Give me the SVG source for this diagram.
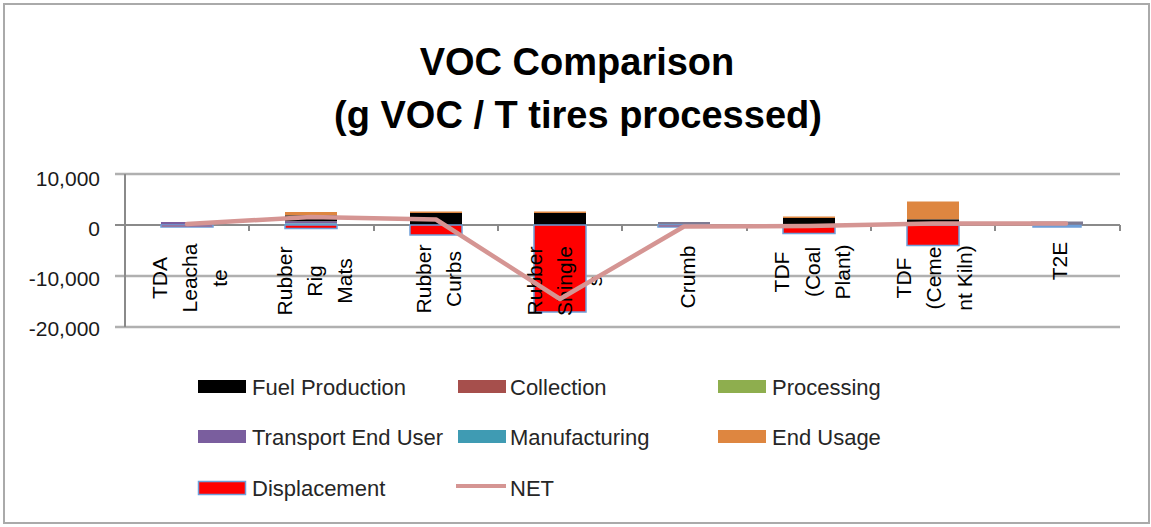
<svg xmlns="http://www.w3.org/2000/svg" width="1151" height="527" viewBox="0 0 1151 527">
  <style>
    .title { font-family: "Liberation Sans", Arial, sans-serif; font-weight: bold; font-size: 38px; fill: #000; text-anchor: middle; }
    .vlab { font-family: "Liberation Sans", Arial, sans-serif; font-size: 21px; fill: #1a1a1a; text-anchor: end; }
    .clab { font-family: "Liberation Sans", Arial, sans-serif; font-size: 21px; fill: #000; text-anchor: middle; }
    .leg { font-family: "Liberation Sans", Arial, sans-serif; font-size: 22px; fill: #262626; }
    .grid { stroke: #b0b0b0; stroke-width: 2.5; fill: none; }
    .axis { stroke: #8a8a8a; stroke-width: 2; fill: none; }
    .fuel { fill: #000000; }
    .coll { fill: #a64f4c; }
    .proc { fill: #8eae4e; }
    .trans { fill: #7a5e9e; }
    .manu { fill: #3f9bb3; }
    .endu { fill: #de8640; }
    .disp { fill: #ff0000; stroke: #6e9fd9; stroke-width: 1.5; }
    .net { fill: none; stroke: #d59593; stroke-width: 4.5; stroke-linejoin: round; stroke-linecap: round; }
  </style>

  <!-- chart frame -->
  <rect x="0" y="0" width="1151" height="527" fill="#ffffff"/>
  <rect x="4" y="4" width="1145" height="519" fill="#ffffff" stroke="#aaaaaa" stroke-width="2"/>

  <!-- title -->
  <g id="title">
    <text class="title" x="577" y="75">VOC Comparison</text>
    <text class="title" x="578" y="128">(g VOC / T tires processed)</text>
  </g>

  <!-- value gridlines and axes -->
  <g id="axes">
    <line class="grid" x1="115" y1="174" x2="1120" y2="174"/>
    <line class="grid" x1="115" y1="276" x2="1120" y2="276"/>
    <line class="grid" x1="115" y1="327" x2="1120" y2="327"/>
    <line class="axis" x1="125" y1="174" x2="125" y2="327"/>
    <line class="axis" x1="115" y1="225" x2="1120" y2="225"/>
    <path class="axis" d="M249 225v6M374 225v6M498 225v6M622 225v6M747 225v6M871 225v6M995 225v6M1120 225v6"/>
    <text class="vlab" x="100" y="186">10,000</text>
    <text class="vlab" x="100" y="236">0</text>
    <text class="vlab" x="100" y="286">-10,000</text>
    <text class="vlab" x="100" y="336">-20,000</text>
  </g>

  <!-- stacked bars, one group per tire use -->
  <g id="bar-tda-leachate">
    <rect class="trans" x="161" y="222" width="52" height="3"/>
    <rect class="disp" x="161" y="225" width="52" height="2"/>
  </g>
  <g id="bar-rubber-rig-mats">
    <rect class="endu" x="285" y="212" width="52" height="3.5"/>
    <rect class="fuel" x="285" y="215.5" width="52" height="6"/>
    <rect class="trans" x="285" y="221.5" width="52" height="2"/>
    <rect class="manu" x="285" y="223.5" width="52" height="1.5"/>
    <rect class="disp" x="285" y="225" width="52" height="3.5"/>
  </g>
  <g id="bar-rubber-curbs">
    <rect class="endu" x="410" y="211.5" width="52" height="1.5"/>
    <rect class="fuel" x="410" y="213" width="52" height="12"/>
    <rect class="disp" x="410" y="225" width="52" height="10"/>
  </g>
  <g id="bar-rubber-shingles">
    <rect class="endu" x="534" y="211.5" width="52" height="1.5"/>
    <rect class="fuel" x="534" y="213" width="52" height="12"/>
    <rect class="disp" x="534" y="225" width="52" height="87"/>
  </g>
  <g id="bar-crumb">
    <rect x="658" y="222" width="52" height="3" fill="#7e7a92"/>
    <rect class="disp" x="658" y="225" width="52" height="2"/>
  </g>
  <g id="bar-tdf-coal">
    <rect class="endu" x="783" y="216.5" width="52" height="1.5"/>
    <rect class="fuel" x="783" y="218" width="52" height="7"/>
    <rect class="disp" x="783" y="225" width="52" height="8.5"/>
  </g>
  <g id="bar-tdf-cement">
    <rect class="endu" x="907" y="201.5" width="52" height="18"/>
    <rect class="fuel" x="907" y="219.5" width="52" height="2.5"/>
    <rect class="disp" x="907" y="225" width="52" height="20.5"/>
  </g>
  <g id="bar-t2e">
    <rect x="1031" y="221.5" width="52" height="3.5" fill="#7e7a92"/>
    <rect class="disp" x="1033" y="225.5" width="48" height="1.5"/>
  </g>

  <!-- category labels (rotated, wrapped) -->
  <g id="category-labels">
    <text class="clab" transform="translate(167 278) rotate(-90)">TDA</text>
    <text class="clab" transform="translate(197 278) rotate(-90)">Leacha</text>
    <text class="clab" transform="translate(227 278) rotate(-90)">te</text>

    <text class="clab" transform="translate(292 281) rotate(-90)">Rubber</text>
    <text class="clab" transform="translate(322 281) rotate(-90)">Rig</text>
    <text class="clab" transform="translate(352 281) rotate(-90)">Mats</text>

    <text class="clab" transform="translate(431 279) rotate(-90)">Rubber</text>
    <text class="clab" transform="translate(461 279) rotate(-90)">Curbs</text>

    <text class="clab" transform="translate(542 281) rotate(-90)">Rubber</text>
    <text class="clab" transform="translate(572 281) rotate(-90)">Shingle</text>
    <text class="clab" transform="translate(602 281) rotate(-90)">s</text>

    <text class="clab" transform="translate(695 277) rotate(-90)">Crumb</text>

    <text class="clab" transform="translate(789 272) rotate(-90)">TDF</text>
    <text class="clab" transform="translate(820 272) rotate(-90)">(Coal</text>
    <text class="clab" transform="translate(850 272) rotate(-90)">Plant)</text>

    <text class="clab" transform="translate(911 278) rotate(-90)">TDF</text>
    <text class="clab" transform="translate(941 278) rotate(-90)">(Ceme</text>
    <text class="clab" transform="translate(972 278) rotate(-90)">nt Kiln)</text>

    <text class="clab" transform="translate(1067 261) rotate(-90)">T2E</text>
  </g>

  <!-- NET series line -->
  <g id="connectors">
    <polyline class="net" points="187,224 311,217 436,219.5 560,299 684,226.5 809,226 933,223.5 1066,223.5"/>
  </g>

  <!-- legend -->
  <g id="legend">
    <g id="legend-fuel">
      <rect class="fuel" x="198" y="380" width="48" height="13"/>
      <text class="leg" x="252" y="395">Fuel Production</text>
    </g>
    <g id="legend-collection">
      <rect class="coll" x="458" y="380" width="48" height="13"/>
      <text class="leg" x="510" y="395">Collection</text>
    </g>
    <g id="legend-processing">
      <rect class="proc" x="718" y="380" width="48" height="13"/>
      <text class="leg" x="772" y="395">Processing</text>
    </g>
    <g id="legend-transport">
      <rect class="trans" x="198" y="430" width="48" height="13"/>
      <text class="leg" x="252" y="445">Transport End User</text>
    </g>
    <g id="legend-manufacturing">
      <rect class="manu" x="458" y="430" width="48" height="13"/>
      <text class="leg" x="510" y="445">Manufacturing</text>
    </g>
    <g id="legend-end-usage">
      <rect class="endu" x="718" y="430" width="48" height="13"/>
      <text class="leg" x="772" y="445">End Usage</text>
    </g>
    <g id="legend-displacement">
      <rect class="disp" x="198.5" y="481.5" width="47" height="13"/>
      <text class="leg" x="252" y="496">Displacement</text>
    </g>
    <g id="legend-net">
      <line x1="456" y1="486" x2="506" y2="486" stroke="#d59593" stroke-width="4"/>
      <text class="leg" x="510" y="496">NET</text>
    </g>
  </g>
</svg>
